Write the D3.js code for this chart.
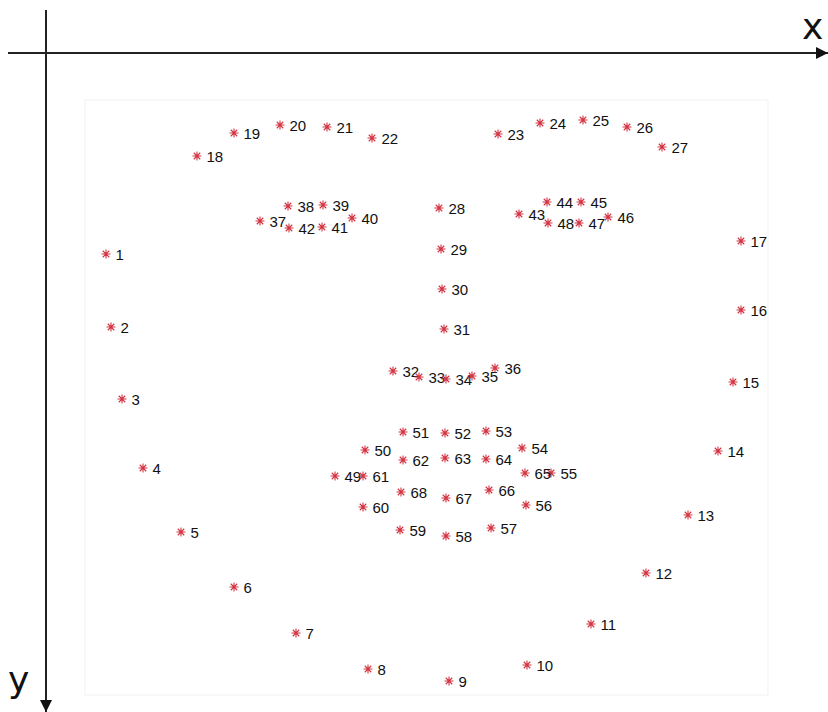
<!DOCTYPE html>
<html>
<head>
<meta charset="utf-8">
<script src="https://cdn.jsdelivr.net/npm/d3@7"></script>
<style>
  body { margin: 0; background: #fff; }
  svg { display: block; }
  .lbl { font-family: "Liberation Sans", Arial, sans-serif; font-size: 15px; fill: #111; }
  .axis-name { font-family: "DejaVu Sans", sans-serif; font-size: 36px; fill: #111; }
</style>
</head>
<body>
<svg width="828" height="712"></svg>
<script>
// landmark positions, image pixels from the axis origin (x right, y down)
const jawX = [60, 65, 76, 97, 135, 188, 250, 322, 403, 481, 545, 600, 642, 672, 687, 695, 695];
const jawY = [201, 274, 346, 415, 479, 534, 580, 616, 628, 612, 571, 520, 462, 398, 329, 257, 188];

const browX = [151, 188, 234, 281, 326, 452, 494, 537, 581, 616];
const browY = [103, 80, 72, 74, 85, 81, 70, 67, 74, 94];

const noseX = [393, 395, 396, 398, 347, 373, 400, 426, 449];
const noseY = [155, 196, 236, 276, 318, 324, 326, 323, 315];

const eyeX = [214, 242, 277, 306, 276, 243, 473, 501, 535, 562, 533, 502];
const eyeY = [168, 153, 152, 165, 174, 175, 161, 149, 149, 164, 170, 170];

const mouthX = [289, 319, 357, 399, 440, 476, 505, 480, 445, 400, 354, 317, 317, 357, 399, 440, 479, 443, 400, 355];
const mouthY = [423, 397, 379, 380, 378, 395, 420, 452, 475, 483, 477, 454, 423, 407, 405, 406, 420, 437, 445, 439];

const axisNames = ['x', 'y'];

const allX = [].concat(jawX, browX, noseX, eyeX, mouthX);
const allY = [].concat(jawY, browY, noseY, eyeY, mouthY);
const points = allX.map((x, i) => ({ id: i + 1, x, y: allY[i] }));

const svg = d3.select('svg');
const width = +svg.attr('width');

const origin = { x: 46, y: 53 };
const x = d3.scaleLinear().domain([0, 782]).range([origin.x, origin.x + 782]);
const y = d3.scaleLinear().domain([0, 659]).range([origin.y, origin.y + 659]);

// faint frame of the photo behind the points
svg.append('rect')
  .attr('x', x(39)).attr('y', y(47))
  .attr('width', x(722) - x(39)).attr('height', y(642) - y(47))
  .attr('fill', 'none')
  .attr('stroke', '#f6f6f6')
  .attr('stroke-width', 1.5);

// arrow heads
const defs = svg.append('defs');
defs.append('marker')
  .attr('id', 'arrow')
  .attr('viewBox', '0 0 10 10')
  .attr('refX', 10).attr('refY', 5)
  .attr('markerWidth', 6.5).attr('markerHeight', 6)
  .attr('markerUnits', 'strokeWidth')
  .attr('orient', 'auto')
  .append('path')
  .attr('d', 'M0,0 L10,5 L0,10 z')
  .attr('fill', '#111');

const axes = svg.append('g').attr('stroke', '#222').attr('stroke-width', 2);
axes.append('line')
  .attr('x1', x(-38)).attr('y1', y(0))
  .attr('x2', x(782)).attr('y2', y(0))
  .attr('marker-end', 'url(#arrow)');
axes.append('line')
  .attr('x1', x(0)).attr('y1', y(-43))
  .attr('x2', x(0)).attr('y2', y(659))
  .attr('marker-end', 'url(#arrow)');

svg.append('text')
  .attr('class', 'axis-name')
  .attr('x', width - 26).attr('y', 39)
  .text(axisNames[0]);
svg.append('text')
  .attr('class', 'axis-name')
  .attr('x', 8).attr('y', 692)
  .text(axisNames[1]);

// matlab-style '*' marker: plus and cross
const r = 4.5, d = r * 0.72;
const star = `M${-r},0L${r},0M0,${-r}L0,${r}M${-d},${-d}L${d},${d}M${-d},${d}L${d},${-d}`;

const g = svg.append('g');
const pts = g.selectAll('g.pt')
  .data(points)
  .enter()
  .append('g')
  .attr('class', 'pt')
  .attr('transform', p => `translate(${x(p.x)},${y(p.y)})`);

pts.append('path')
  .attr('d', star)
  .attr('stroke', '#d23442')
  .attr('stroke-width', 1.1)
  .attr('fill', 'none');

pts.append('text')
  .attr('class', 'lbl')
  .attr('x', 9.5)
  .attr('y', 5.5)
  .text(p => p.id);
</script>
</body>
</html>
